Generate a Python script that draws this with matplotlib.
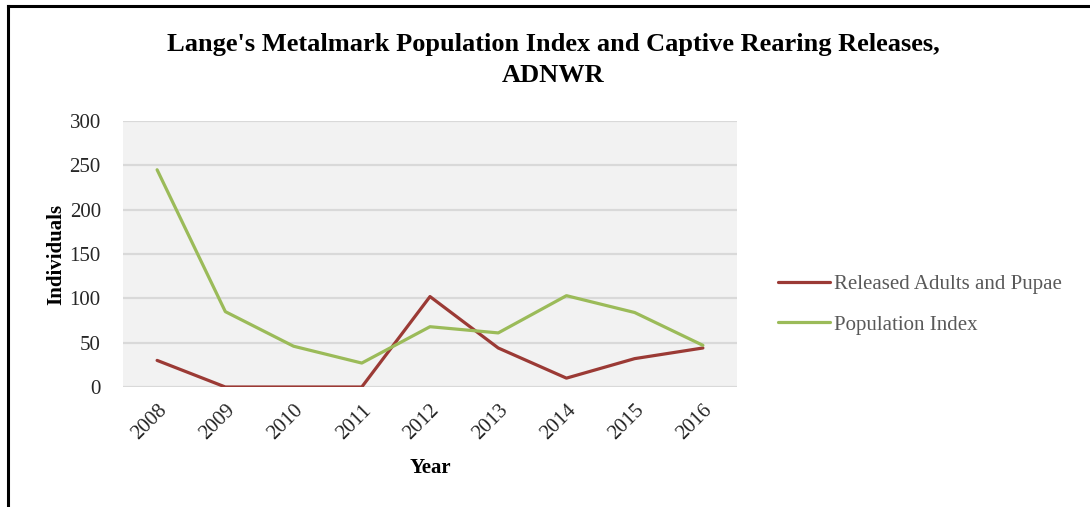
import matplotlib.pyplot as plt
from matplotlib.lines import Line2D

years = ["2008", "2009", "2010", "2011", "2012", "2013", "2014", "2015", "2016"]
released = [30, 0, 0, 0, 102, 44, 10, 32, 44]
population = [245, 85, 46, 27, 68, 61, 103, 84, 47]

plt.rcParams["font.family"] = ["Liberation Serif", "DejaVu Serif"]

fig = plt.figure(figsize=(10.9, 5.07), dpi=100)
ax = fig.add_axes([123 / 1090, 1 - 387 / 507, (737 - 123) / 1090, (387 - 121) / 507])

x = range(len(years))
ax.plot(x, released, color="#9B3A35", lw=2.3, label="Released Adults and Pupae", solid_capstyle="round")
ax.plot(x, population, color="#9BBB59", lw=2.3, label="Population Index", solid_capstyle="round")

ax.set_xlim(-0.5, len(years) - 0.5)
ax.set_ylim(0, 300)
ax.set_yticks(range(0, 301, 50))
ax.set_xticks(list(x))
ax.set_xticklabels(years, rotation=45, ha="right", va="top", rotation_mode="anchor")
ax.set_facecolor("#F2F2F2")
ax.grid(axis="y", color="#D9D9D9", lw=1.6)
ax.set_axisbelow(True)
for s in ax.spines.values():
    s.set_visible(False)
ax.tick_params(length=0, labelsize=15, colors="#262626")
ax.tick_params(axis="y", pad=16)
ax.tick_params(axis="x", pad=10)

ax.set_ylabel("Individuals", fontsize=15, fontweight="bold", labelpad=2)
ax.set_xlabel("Year", fontsize=15, fontweight="bold", labelpad=10)

fig.text(553 / 1090, 1 - 45 / 507, "Lange's Metalmark Population Index and Captive Rearing Releases,",
         ha="center", va="center", fontsize=19, fontweight="bold")
fig.text(553 / 1090, 1 - 76 / 507, "ADNWR", ha="center", va="center", fontsize=19, fontweight="bold")

leg = fig.legend(loc="upper left", bbox_to_anchor=(759 / 1090, 1 - 256 / 507), frameon=False,
                 fontsize=15, handlelength=2.5, handletextpad=0.2, labelspacing=1.0,
                 labelcolor="#595959")

# frame of the picture
fig.add_artist(Line2D([8 / 1090, 8 / 1090], [0, 1 - 6 / 507], transform=fig.transFigure, color="black", lw=2.2))
fig.add_artist(Line2D([8 / 1090, 1], [1 - 6 / 507, 1 - 6 / 507], transform=fig.transFigure, color="black", lw=2.2))

fig.savefig("out.png", dpi=100)
